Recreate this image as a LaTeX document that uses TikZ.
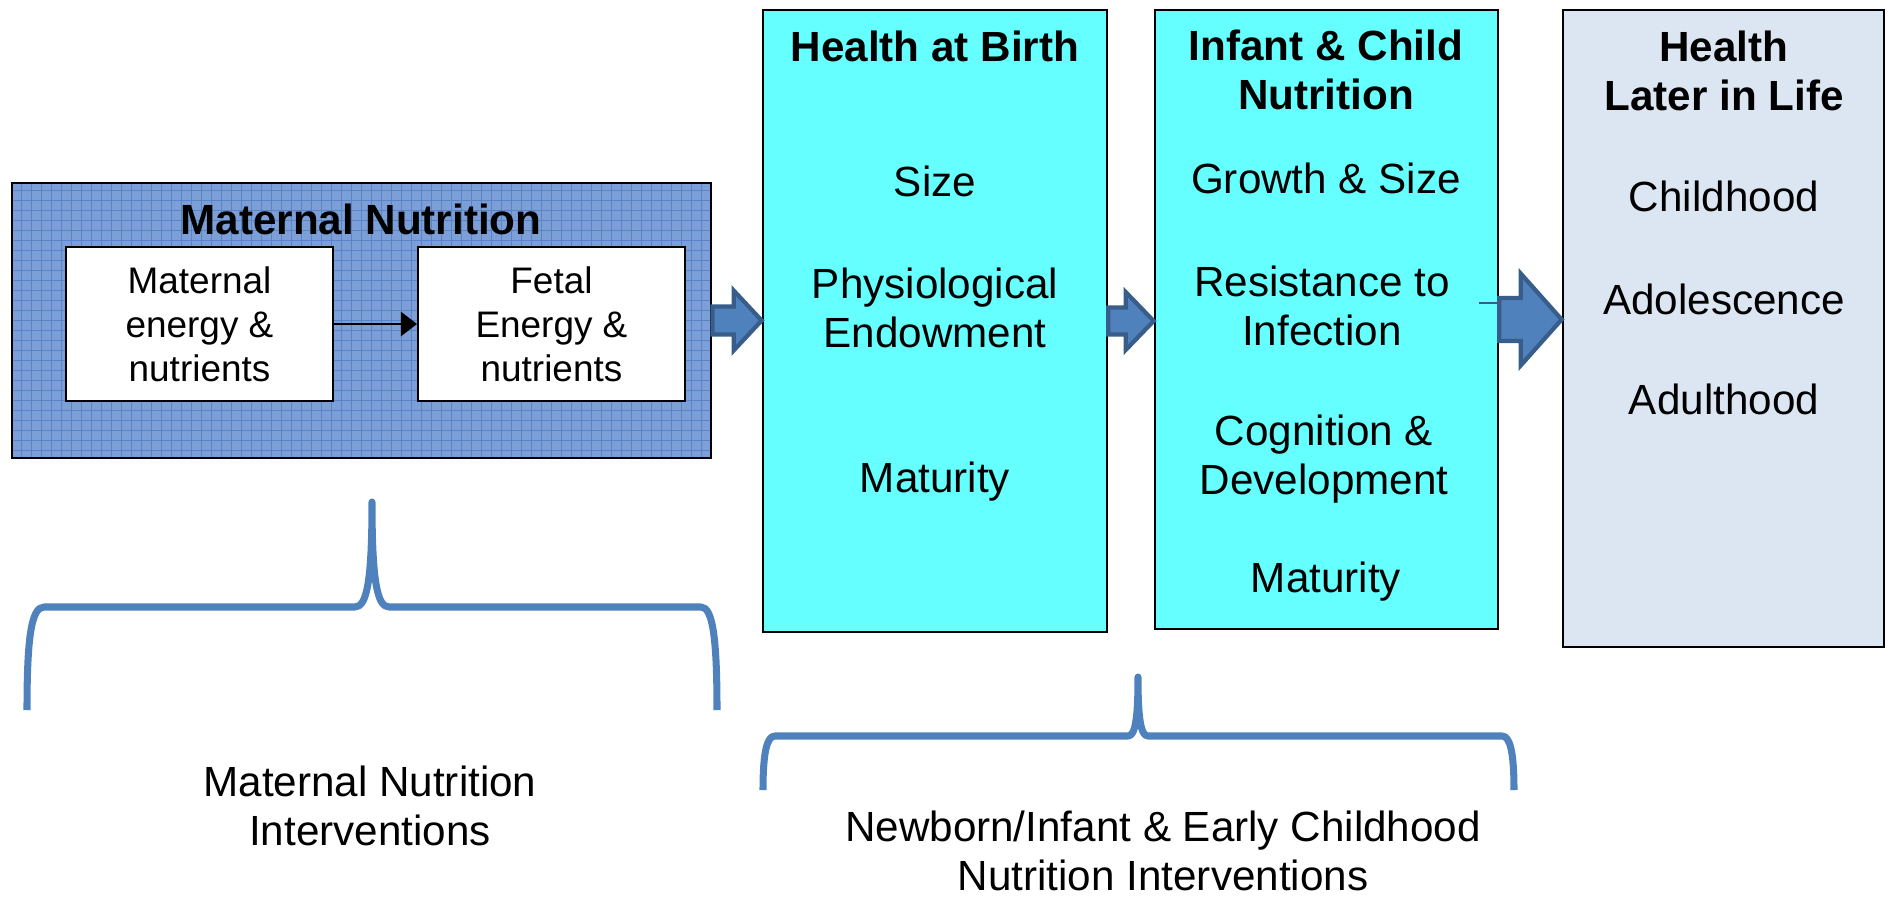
\documentclass[tikz,border=0pt]{standalone}
\usepackage{fontspec}
\setmainfont{Liberation Sans}
\usepackage{tikz}
\usetikzlibrary{arrows.meta}
\usetikzlibrary{calc}
\usetikzlibrary{positioning}
\usepackage{xcolor}
\definecolor{myblue}{HTML}{4F81BD}
\definecolor{myblueline}{HTML}{385D8A}
\definecolor{mygridbase}{HTML}{7C9FD8}
\definecolor{mygridline}{HTML}{5A84C8}
\definecolor{mycyan}{HTML}{66FFFF}
\definecolor{mypale}{HTML}{DCE6F2}
\tikzset{node distance=0.83cm, every text node part/.style={align=center, font={\fontsize{12}{14}\selectfont}}}
\tikzstyle{tall} = [draw=black, line width=0.7pt, minimum width=3.44cm, minimum height=6.22cm, inner sep=0pt]
\tikzstyle{gridbox} = [draw=black, line width=0.7pt, fill=mygridbase, inner sep=0pt,
  path picture={
    \draw[white!30!mygridbase, line width=0.3pt, step=0.1cm, shift={(0.05cm,0.05cm)}] (path picture bounding box.south west) grid (path picture bounding box.north east);
    \draw[mygridline, line width=0.35pt, step=0.1cm] (path picture bounding box.south west) grid (path picture bounding box.north east);
  }]
\tikzstyle{smallbox} = [draw=black, fill=white, line width=0.5pt, minimum width=2.67cm, minimum height=1.54cm, inner sep=0pt, every text node part/.append style={font={\fontsize{10.5}{12.5}\selectfont}}]
\tikzstyle{boxtitle} = [inner sep=0pt, every text node part/.append style={font={\bfseries\fontsize{12}{14}\selectfont}}]
\tikzstyle{txt} = [inner sep=0pt]
\tikzstyle{fatarr} = [fill=myblue, draw=myblueline, line width=1.2pt, line join=miter]
\tikzstyle{curly} = [draw=myblue, line width=2pt, line join=round]
% from, to, shaft half width, head half width, head length
\newcommand{\fatarrow}[5]{%
  \draw[fatarr] let \p1=(#1.east), \p2=(#2.west) in
    (\x1,\y1+#3) -- (\x2-#5,\y1+#3) -- (\x2-#5,\y1+#4) -- (\x2,\y1)
    -- (\x2-#5,\y1-#4) -- (\x2-#5,\y1-#3) -- (\x1,\y1-#3) -- cycle;}

\begin{document}
\begin{tikzpicture}[x=0.01cm, y=-0.01cm]
  \useasboundingbox (0,0) rectangle (1890,897);

  \node[gridbox, minimum width=6.99cm, minimum height=2.75cm] (matnut) at (361.5,320.5) {};
  \node[boxtitle] (mattitle) at (361,219) {Maternal Nutrition};
  \node[smallbox] (matenergy) at (199.5,324) {Maternal\\energy \&\\nutrients};
  \node[smallbox, right=of matenergy] (fetal) {Fetal\\Energy \&\\nutrients};
  \draw[line width=0.6pt, -{Triangle[length=0.16cm, width=0.24cm]}] (matenergy) -- (fetal);

  \node[tall, fill=mycyan] (birth) at (935,321) {};
  \node[tall, fill=mycyan, minimum width=3.43cm, minimum height=6.19cm] (infant) at (1326.5,319.5) {};
  \node[tall, fill=mypale, minimum width=3.21cm, minimum height=6.37cm] (later) at (1723.5,328.5) {};

  \node[boxtitle] (birthtitle) at (935,46) {Health at Birth};
  \node[txt] (size) at (935,181) {Size};
  \node[txt] (endow) at (935,308) {Physiological\\Endowment};
  \node[txt] (birthmat) at (935,482) {Maturity};

  \node[boxtitle] (inftitle) at (1326,70) {Infant \& Child\\Nutrition};
  \node[txt] (growth) at (1326,178) {Growth \& Size};
  \node[txt] (resist) at (1322,306) {Resistance to\\Infection};
  \node[txt] (cogn) at (1324,459) {Cognition \&\\Development};
  \node[txt] (infmat) at (1326,582) {Maturity};

  \node[boxtitle] (latertitle) at (1724,71) {Health\\Later in Life};
  \node[txt] (child) at (1724,196) {Childhood};
  \node[txt] (adol) at (1724,299) {Adolescence};
  \node[txt] (adult) at (1724,399) {Adulthood};

  \fatarrow{matnut}{birth}{0.14cm}{0.30cm}{0.28cm}
  \fatarrow{birth}{infant}{0.135cm}{0.29cm}{0.28cm}
  \fatarrow{infant}{later}{0.215cm}{0.46cm}{0.41cm}
  \draw[myblueline, line width=0.4pt] ([xshift=-0.2cm, yshift=0.165cm]infant.east) -- ([yshift=0.165cm]infant.east);

  \draw[curly] (27,710) .. controls (27,640) and (31,607) .. (44,607) -- (355,607)
    .. controls (367,607) and (372,580) .. (372,502)
    .. controls (372,580) and (377,607) .. (389,607) -- (701,607)
    .. controls (713,607) and (717,640) .. (717,710);
  \draw[curly] (763,790) .. controls (763,752) and (767,736) .. (775,736) -- (1128,736)
    .. controls (1135,736) and (1138,720) .. (1138,677)
    .. controls (1138,720) and (1141,736) .. (1148,736) -- (1502,736)
    .. controls (1510,736) and (1514,752) .. (1514,790);

  \node[txt] (matint) at (370,806) {Maternal Nutrition\\Interventions};
  \node[txt] (newint) at (1163,851) {Newborn/Infant \& Early Childhood\\Nutrition Interventions};
\end{tikzpicture}
\end{document}
